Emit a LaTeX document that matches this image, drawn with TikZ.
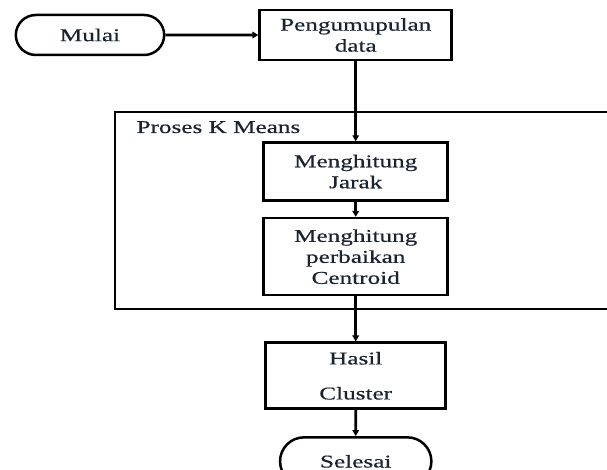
\documentclass[tikz,border=0pt]{standalone}
\usepackage{fontspec}
\setmainfont{Liberation Serif}[FakeStretch=1.4, FakeBold=0.5]
\usetikzlibrary{positioning, arrows.meta, shapes.misc}
\usepackage{xcolor}
\definecolor{flowInk}{HTML}{1B2230}

\begin{document}
\begin{tikzpicture}[
    x=1pt, y=1pt,
    >={Triangle[length=6pt,width=6.5pt]},
    every node/.style={font=\fontsize{18}{21}\selectfont, text=flowInk, align=center},
    terminal/.style={rounded rectangle, draw, line width=2.5pt, minimum width=155pt, minimum height=40pt},
    process/.style={rectangle, draw, line width=2.6pt, minimum width=184pt},
    frame/.style={draw, line width=2.6pt},
    flow/.style={->, line width=2.6pt}
]
    \clip (0,0) rectangle (607,470);

    \node[terminal] (mulai) at (90,435) {Mulai};
    \node[process, minimum width=192pt, minimum height=50pt, right=93pt of mulai] (data) {Pengumupulan\\data};

    % blok proses k means
    \draw[frame] (115,161) rectangle (640,358);
    \node[anchor=base west] (kmeans) at (133,337) {Proses K Means};

    \node[process, minimum height=58pt, below=80pt of data] (jarak) {Menghitung\\Jarak};
    \node[process, minimum height=77pt, below=15pt of jarak] (centroid) {Menghitung\\perbaikan\\Centroid};

    \node[process, minimum width=180pt, minimum height=66pt, below=45pt of centroid] (hasil) {Hasil\\[14pt]Cluster};
    \node[terminal, minimum width=158pt, minimum height=48pt, below=26pt of hasil] (selesai) {Selesai};

    \draw[flow] (mulai) -- (data);
    \draw[flow] (data) -- (jarak);
    \draw[flow] (jarak) -- (centroid);
    \draw[flow] (centroid) -- (hasil);
    \draw[flow] (hasil) -- (selesai);
\end{tikzpicture}
\end{document}
